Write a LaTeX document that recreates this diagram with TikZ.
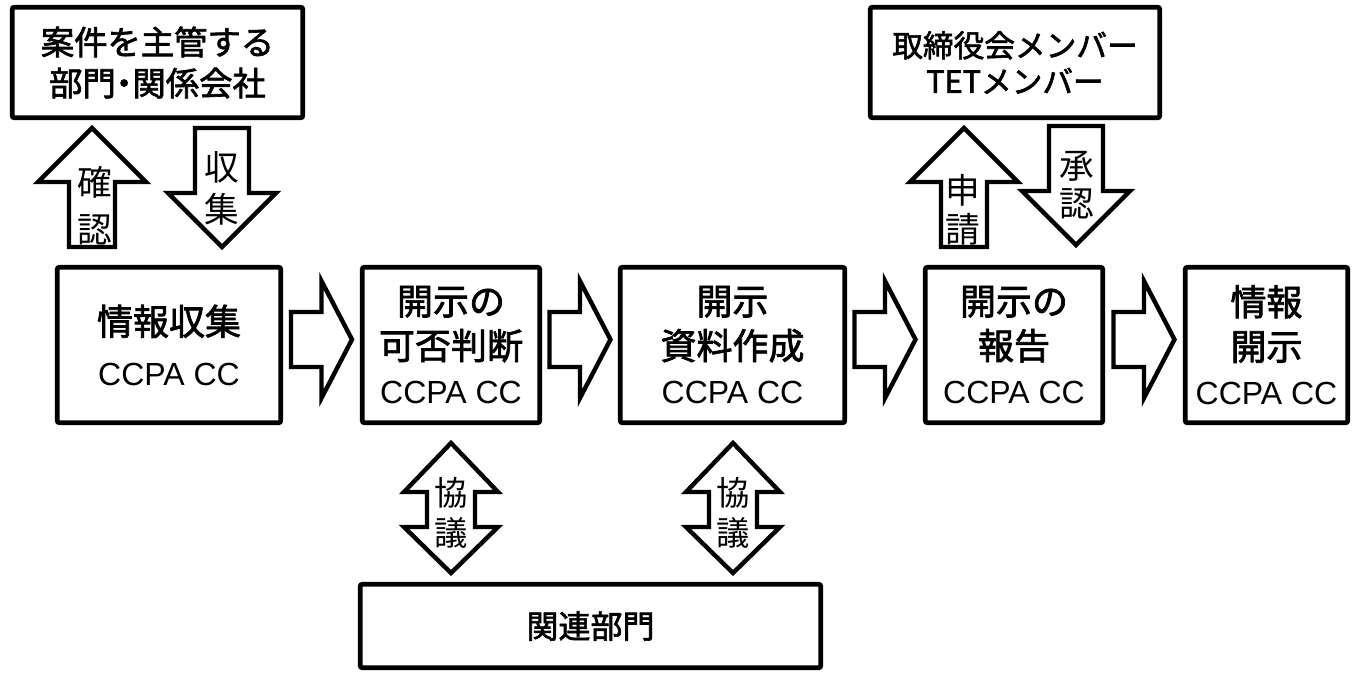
\documentclass[tikz,border=0pt]{standalone}
\usepackage{fontspec}
\newfontfamily\jp{Noto Sans CJK JP}[AutoFakeBold=2]
\newfontfamily\lat{Liberation Sans}
\usetikzlibrary{calc}
\newcommand\ccpa{{\lat\mdseries\fontsize{24}{33.4}\selectfont CCPA CC}}
\tikzset{
  box/.style={draw, line width=3.5pt, rounded corners=1.5pt, align=center, inner sep=0pt,
    font=\jp\bfseries\fontsize{27}{33.4}\selectfont},
  lab/.style={align=center, inner sep=0pt, font=\jp\fontsize{26}{30}\selectfont},
  blk/.style={draw, line width=3.3pt, fill=white, line join=miter},
  rarrow/.pic={\draw[blk] (-30.5,-27.5) -- (0,-27.5) -- (0,-58.5) -- (30.5,0) -- (0,58.5) -- (0,27.5) -- (-30.5,27.5) -- cycle;},
  uarrow/.pic={\draw[blk] (0,0) -- (54,54) -- (23,54) -- (23,119) -- (-23,119) -- (-23,54) -- (-54,54) -- cycle;},
  darrow/.pic={\draw[blk] (0,0) -- (54,-54) -- (27,-54) -- (27,-119) -- (-27,-119) -- (-27,-54) -- (-54,-54) -- cycle;},
  dblarrow/.pic={\draw[blk] (0,0) -- (47,49) -- (24,49) -- (24,84) -- (47,84) -- (0,130) -- (-47,84) -- (-24,84) -- (-24,49) -- (-47,49) -- cycle;},
}
\begin{document}
\begin{tikzpicture}[x=0.75pt,y=-0.75pt]
\fill[white] (0,0) rectangle (1356,672);
\useasboundingbox (0,0) rectangle (1356,672);
% boxes
\node[box, minimum width=217.9pt, minimum height=82.9pt, font=\jp\bfseries\fontsize{25}{30.75}\selectfont] (top1) at (157.5,62.5) {案件を主管する\\部門\kern-.25em・\kern-.25em関係会社};
\node[box, minimum width=217.1pt, minimum height=82.9pt, font=\jp\bfseries\fontsize{23}{27}\selectfont] (top2) at (1015,62.5) {取締役会メンバー\\TETメンバー};
\node[box, minimum width=167.6pt, minimum height=116.6pt] (b1) at (169,345) {情報収集\\[4.1pt]\ccpa};
\node[box, minimum width=133.1pt, minimum height=116.6pt] (b2) at (451,345) {開示の\\可否判断\\\ccpa};
\node[box, minimum width=168.4pt, minimum height=116.6pt] (b3) at (732.5,345) {開示\\資料作成\\\ccpa};
\node[box, minimum width=133.1pt, minimum height=116.6pt] (b4) at (1014,345) {開示の\\報告\\\ccpa};
\node[box, minimum width=121.9pt, minimum height=116.6pt] (b5) at (1266.5,345) {情報\\開示\\\ccpa};
\node[box, minimum width=345.4pt, minimum height=62.6pt, font=\jp\bfseries\fontsize{24}{30}\selectfont] (rel) at (590.5,626) {関連部門};
% flow arrows
\pic at ($(b1.east)!0.5!(b2.west)+(0,-5.5)$) {rarrow};
\pic at ($(b2.east)!0.5!(b3.west)+(0,-5.5)$) {rarrow};
\pic at ($(b3.east)!0.5!(b4.west)+(0,-5.5)$) {rarrow};
\pic at ($(b4.east)!0.5!(b5.west)+(0,-5.5)$) {rarrow};
% vertical arrows
\pic at (92,128) {uarrow};
\node[lab] (l1) at (95,205.5) {確\\[5pt]認};
\pic at (222,247) {darrow};
\node[lab] (l2) at (222,188.5) {収\\[2pt]集};
\pic at (964,128) {uarrow};
\node[lab] (l3) at (963,209.5) {申\\[-1pt]請};
\pic at (1076,245) {darrow};
\node[lab] (l4) at (1077,185) {承\\[-1.5pt]認};
\pic at (451,443) {dblarrow};
\node[lab, font=\jp\fontsize{25}{30}\selectfont] (l5) at (451,513) {協\\議};
\pic at (733,443) {dblarrow};
\node[lab, font=\jp\fontsize{25}{30}\selectfont] (l6) at (733,513) {協\\議};
\end{tikzpicture}
\end{document}
